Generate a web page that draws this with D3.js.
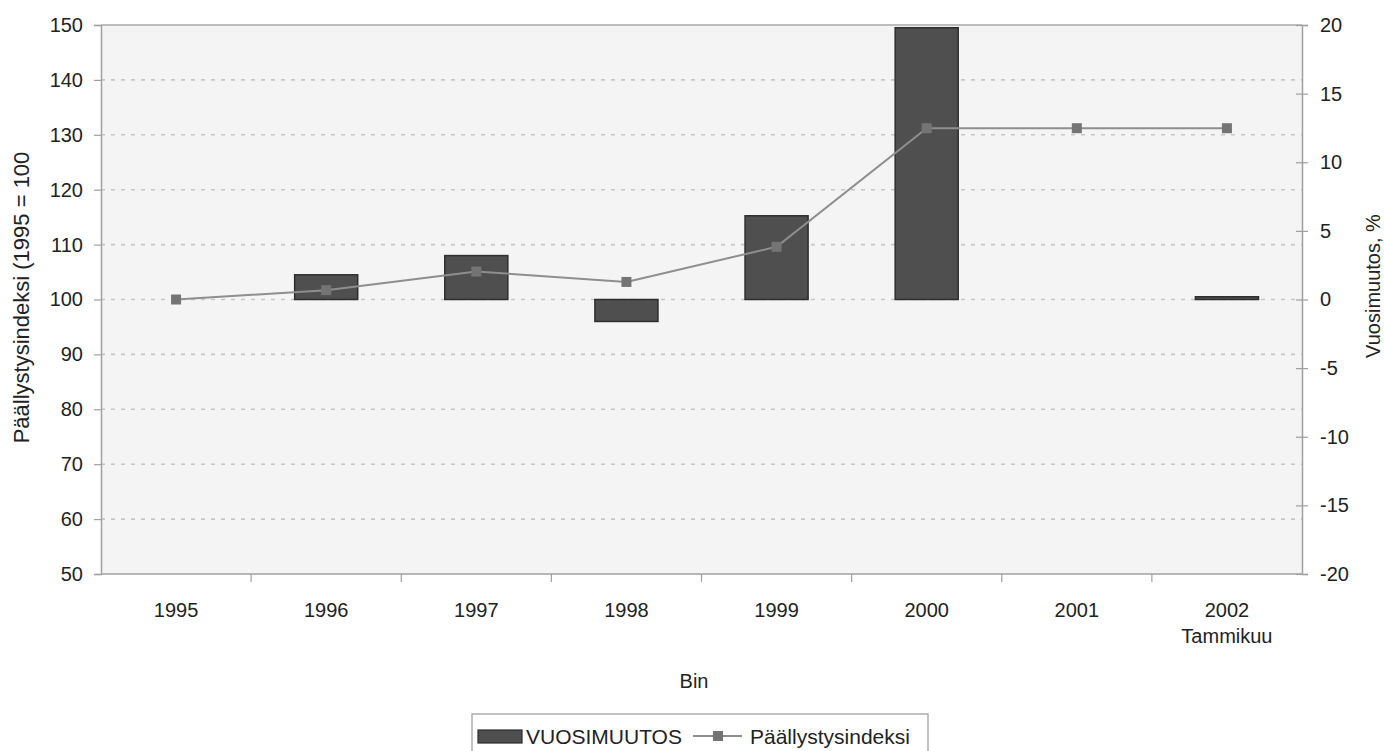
<!DOCTYPE html>
<html>
<head>
<meta charset="utf-8">
<script src="https://cdn.jsdelivr.net/npm/d3@7/dist/d3.min.js"></script>
<style>
  html, body { margin: 0; padding: 0; background: #ffffff; }
  svg { display: block; }
  text { font-family: "Liberation Sans", Arial, sans-serif; fill: #222; }
</style>
</head>
<body>
<svg id="chart" width="1384" height="751"></svg>
<script>
// Building-cost index (1995 = 100) and its yearly change, %
const years = ["1995", "1996", "1997", "1998", "1999", "2000", "2001", "2002"];
const yearSubLabels = ["", "", "", "", "", "", "", "Tammikuu"];
const yearlyChange = [0, 1.8, 3.2, -1.6, 6.1, 19.8, 0, 0.2];
const indexValues = [100, 101.7, 105.1, 103.2, 109.6, 131.2, 131.2, 131.2];
const leftTicks = [50, 60, 70, 80, 90, 100, 110, 120, 130, 140, 150];
const rightTicks = [-20, -15, -10, -5, 0, 5, 10, 15, 20];

const svg = d3.select("#chart");
const plot = { left: 101, right: 1302, top: 25, bottom: 574 };

const x = d3.scaleBand().domain(years).range([plot.left, plot.right]).padding(0);
const yLeft = d3.scaleLinear().domain([50, 150]).range([plot.bottom, plot.top]);
const yRight = d3.scaleLinear().domain([-20, 20]).range([plot.bottom, plot.top]);

// plot background
svg.append("rect")
  .attr("x", plot.left).attr("y", plot.top)
  .attr("width", plot.right - plot.left).attr("height", plot.bottom - plot.top)
  .attr("fill", "#f4f4f4");

// dotted horizontal gridlines
svg.append("g")
  .selectAll("line")
  .data(leftTicks.filter(d => d > 50 && d < 150))
  .join("line")
  .attr("x1", plot.left).attr("x2", plot.right)
  .attr("y1", d => yLeft(d)).attr("y2", d => yLeft(d))
  .attr("stroke", "#c6c6c6").attr("stroke-width", 1.6)
  .attr("stroke-dasharray", "4,6");

// top border
svg.append("line")
  .attr("x1", plot.left).attr("x2", plot.right)
  .attr("y1", plot.top).attr("y2", plot.top)
  .attr("stroke", "#a8a8a8").attr("stroke-width", 1.5);

// bars: yearly change on the right scale
const barW = x.bandwidth() * 0.42;
svg.append("g")
  .selectAll("rect")
  .data(years.map((y, i) => ({ year: y, v: yearlyChange[i] })).filter(d => d.v !== 0))
  .join("rect")
  .attr("x", d => x(d.year) + (x.bandwidth() - barW) / 2)
  .attr("y", d => yRight(Math.max(0, d.v)))
  .attr("width", barW)
  .attr("height", d => Math.abs(yRight(d.v) - yRight(0)))
  .attr("fill", "#4f4f4f")
  .attr("stroke", "#2e2e2e").attr("stroke-width", 1.5);

// index line on the left scale
const pts = years.map((y, i) => ({ year: y, v: indexValues[i] }));
const cx = d => x(d.year) + x.bandwidth() / 2;
svg.append("path")
  .datum(pts)
  .attr("d", d3.line().x(cx).y(d => yLeft(d.v)))
  .attr("fill", "none").attr("stroke", "#8e8e8e").attr("stroke-width", 2);

svg.append("g")
  .selectAll("rect")
  .data(pts)
  .join("rect")
  .attr("x", d => cx(d) - 5).attr("y", d => yLeft(d.v) - 5)
  .attr("width", 10).attr("height", 10)
  .attr("fill", "#747474");

// left axis
const leftAxis = d3.axisLeft(yLeft).tickValues(leftTicks).tickSize(7).tickPadding(11);
const gL = svg.append("g").attr("transform", `translate(${plot.left},0)`).call(leftAxis);

// right axis (plain hyphen for negatives)
const rightAxis = d3.axisRight(yRight).tickValues(rightTicks).tickSize(6).tickPadding(12)
  .tickFormat(d => String(d));
const gR = svg.append("g").attr("transform", `translate(${plot.right},0)`).call(rightAxis);
gR.selectAll(".tick line").attr("x1", -6);

// bottom axis, ticks on category boundaries
const gB = svg.append("g").attr("transform", `translate(0,${plot.bottom})`);
gB.append("line").attr("x1", plot.left).attr("x2", plot.right)
  .attr("stroke", "#a0a0a0").attr("stroke-width", 1.5);
gB.selectAll("line.tk")
  .data(years.slice(1))
  .join("line").attr("class", "tk")
  .attr("x1", d => x(d)).attr("x2", d => x(d))
  .attr("y1", 0).attr("y2", 8)
  .attr("stroke", "#a0a0a0").attr("stroke-width", 1.2);
gB.selectAll("text.yr")
  .data(years)
  .join("text").attr("class", "yr")
  .attr("x", d => x(d) + x.bandwidth() / 2)
  .attr("y", 43)
  .attr("text-anchor", "middle")
  .style("font-size", "20px")
  .text(d => d);
gB.selectAll("text.sub")
  .data(years.map((y, i) => ({ year: y, s: yearSubLabels[i] })).filter(d => d.s))
  .join("text").attr("class", "sub")
  .attr("x", d => x(d.year) + x.bandwidth() / 2)
  .attr("y", 69)
  .attr("text-anchor", "middle")
  .style("font-size", "20px")
  .text(d => d.s);

[gL, gR].forEach(g => {
  g.select(".domain").attr("stroke", "#a0a0a0").attr("stroke-width", 1.5);
  g.selectAll(".tick line").attr("stroke", "#a0a0a0").attr("stroke-width", 1.2);
  g.selectAll(".tick text").style("font-size", "20px").attr("fill", "#222");
});

// axis titles
svg.append("text")
  .attr("transform", `translate(29,${(145 + 450) / 2}) rotate(-90)`)
  .attr("text-anchor", "middle")
  .style("font-size", "22px")
  .text("Päällystysindeksi (1995 = 100");

svg.append("text")
  .attr("transform", `translate(1380,286) rotate(-90)`)
  .attr("text-anchor", "middle")
  .style("font-size", "20px")
  .text("Vuosimuutos, %");

svg.append("text")
  .attr("x", 694).attr("y", 688)
  .attr("text-anchor", "middle")
  .style("font-size", "20px")
  .text("Bin");

// legend
const lg = svg.append("g");
lg.append("rect")
  .attr("x", 472).attr("y", 714).attr("width", 456).attr("height", 44)
  .attr("fill", "#ffffff").attr("stroke", "#a0a0a0").attr("stroke-width", 1.3);
lg.append("rect")
  .attr("x", 478).attr("y", 730).attr("width", 44).attr("height", 13)
  .attr("fill", "#4f4f4f").attr("stroke", "#2e2e2e").attr("stroke-width", 1.2);
lg.append("text")
  .attr("x", 526).attr("y", 744)
  .style("font-size", "21px")
  .text("VUOSIMUUTOS");
lg.append("line")
  .attr("x1", 693).attr("x2", 742).attr("y1", 736).attr("y2", 736)
  .attr("stroke", "#8e8e8e").attr("stroke-width", 2);
lg.append("rect")
  .attr("x", 713).attr("y", 731).attr("width", 10).attr("height", 10)
  .attr("fill", "#747474");
lg.append("text")
  .attr("x", 750).attr("y", 744)
  .style("font-size", "21px")
  .text("Päällystysindeksi");
</script>
</body>
</html>
